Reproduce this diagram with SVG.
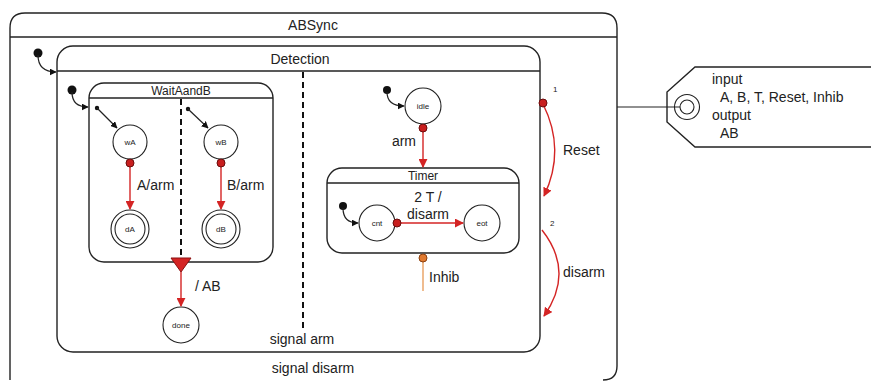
<svg xmlns="http://www.w3.org/2000/svg" width="871" height="381" viewBox="0 0 871 381">
<defs>
<style>
.box{fill:none;stroke:#222;stroke-width:1.4}
.st{fill:#fff;stroke:#222;stroke-width:1.1}
.dash{stroke:#111;stroke-width:2;stroke-dasharray:6,4;fill:none}
.blk{stroke:#222;stroke-width:1.2;fill:none}
.red{stroke:#d42424;stroke-width:1.4;fill:none}
.rdot{fill:#c81e1e;stroke:#6a0d0d;stroke-width:1}
.t{font-family:"Liberation Sans",Arial,sans-serif;fill:#222}
.lbl{font-family:"Liberation Sans",Arial,sans-serif;fill:#222;font-size:14px}
.sm{font-family:"Liberation Sans",Arial,sans-serif;fill:#222;font-size:8px;text-anchor:middle}
</style>
<marker id="ab" viewBox="0 0 10 10" refX="9" refY="5" markerWidth="7" markerHeight="7" orient="auto" markerUnits="userSpaceOnUse"><path d="M0,0L10,5L0,10z" fill="#111"/></marker>
<marker id="ar" viewBox="0 0 10 10" refX="9" refY="5" markerWidth="9" markerHeight="9" orient="auto" markerUnits="userSpaceOnUse"><path d="M0,0L10,5L0,10z" fill="#d42424"/></marker>
</defs>
<rect width="871" height="381" fill="#fff"/>

<g id="ABSync">
<path class="box" d="M10,380 V28 Q10,13 25,13 H602 Q617,13 617,28 V366 Q617,380 603,380"/>
<line class="box" x1="10" y1="37" x2="617" y2="37"/>
<text class="t" x="313" y="30" font-size="14" text-anchor="middle">ABSync</text>
<text class="lbl" x="313" y="373" text-anchor="middle">signal disarm</text>
</g>

<g id="Detection">
<rect class="box" x="57" y="46" width="483" height="306" rx="16"/>
<line class="box" x1="57" y1="71" x2="540" y2="71"/>
<text class="t" x="300" y="64" font-size="14" text-anchor="middle">Detection</text>
<line class="dash" x1="303" y1="72" x2="303" y2="331"/>
<text class="lbl" x="302" y="344" text-anchor="middle">signal arm</text>
</g>

<g id="WaitAandB">
<rect class="box" x="89" y="83" width="184" height="179" rx="15"/>
<line class="box" x1="89" y1="98" x2="273" y2="98"/>
<text class="t" x="181" y="95" font-size="12" text-anchor="middle">WaitAandB</text>
<line class="dash" x1="181" y1="99" x2="181" y2="258"/>
</g>

<g id="wA"><circle class="st" cx="130" cy="142" r="17"/><text class="sm" x="130" y="145">wA</text></g>
<g id="wB"><circle class="st" cx="221" cy="142" r="17"/><text class="sm" x="221" y="145">wB</text></g>
<g id="dA"><circle class="st" cx="130" cy="229" r="19"/><circle class="st" cx="130" cy="229" r="15"/><text class="sm" x="130" y="232">dA</text></g>
<g id="dB"><circle class="st" cx="221" cy="229" r="19"/><circle class="st" cx="221" cy="229" r="15"/><text class="sm" x="221" y="232">dB</text></g>
<g id="done"><circle class="st" cx="181" cy="325" r="18"/><text class="sm" x="181" y="328">done</text></g>
<g id="idle"><circle class="st" cx="423" cy="106" r="18"/><text class="sm" x="423" y="109">idle</text></g>

<g id="Timer">
<rect class="box" x="327" y="168" width="192" height="85" rx="15"/>
<line class="box" x1="327" y1="183" x2="519" y2="183"/>
<text class="t" x="423" y="180" font-size="12" text-anchor="middle">Timer</text>
</g>
<g id="cnt"><circle class="st" cx="377" cy="223" r="18"/><text class="sm" x="377" y="226">cnt</text></g>
<g id="eot"><circle class="st" cx="482" cy="223" r="18"/><text class="sm" x="482" y="226">eot</text></g>

<g id="interface">
<path class="box" d="M875,67 H695 L667,92 V122 L695,147 H875"/>
<circle class="st" cx="687" cy="107" r="12.5"/>
<circle class="st" cx="687" cy="107" r="7"/>
<text class="lbl" x="712" y="84">input</text>
<text class="lbl" x="720" y="102">A, B, T, Reset, Inhib</text>
<text class="lbl" x="712" y="120">output</text>
<text class="lbl" x="720" y="138">AB</text>
</g>

<g id="connectors">
<circle cx="38" cy="53" r="4.5" fill="#111"/>
<path class="blk" d="M38,55 Q38,72 56,72" marker-end="url(#ab)"/>
<circle cx="72" cy="90" r="4.5" fill="#111"/>
<path class="blk" d="M72,92 Q72,107 88,107" marker-end="url(#ab)"/>
<circle cx="97" cy="108" r="2.2" fill="#111"/>
<line class="blk" x1="97" y1="108" x2="117" y2="128" marker-end="url(#ab)"/>
<circle cx="188" cy="109" r="2.2" fill="#111"/>
<line class="blk" x1="188" y1="109" x2="208" y2="128" marker-end="url(#ab)"/>
<line class="red" x1="130" y1="164" x2="130" y2="209" marker-end="url(#ar)"/>
<circle class="rdot" cx="130" cy="163" r="4"/>
<text class="lbl" x="137" y="190">A/arm</text>
<line class="red" x1="221" y1="164" x2="221" y2="209" marker-end="url(#ar)"/>
<circle class="rdot" cx="221" cy="163" r="4"/>
<text class="lbl" x="227" y="190">B/arm</text>
<path d="M171,258 H191 L181,272 Z" fill="#d42424" stroke="#8a1010" stroke-width="1"/>
<line class="red" x1="181" y1="272" x2="181" y2="306" marker-end="url(#ar)"/>
<text class="lbl" x="195" y="291">/ AB</text>
<circle cx="387" cy="90" r="4" fill="#111"/>
<path class="blk" d="M387,92 Q387,106 404,106" marker-end="url(#ab)"/>
<line class="red" x1="423" y1="129" x2="423" y2="167" marker-end="url(#ar)"/>
<circle class="rdot" cx="423" cy="128" r="4"/>
<text class="lbl" x="416" y="146" text-anchor="end">arm</text>
<circle cx="343" cy="206" r="4" fill="#111"/>
<path class="blk" d="M343,208 Q343,223 358,223" marker-end="url(#ab)"/>
<line class="red" x1="398" y1="223" x2="463" y2="223" marker-end="url(#ar)"/>
<circle class="rdot" cx="397" cy="223" r="4"/>
<text class="lbl" x="428" y="202" text-anchor="middle">2 T /</text>
<text class="lbl" x="428" y="219" text-anchor="middle">disarm</text>
<line x1="423" y1="260" x2="423" y2="291" stroke="#e8a060" stroke-width="1.4"/>
<circle cx="423" cy="258" r="4" fill="#e07a30" stroke="#8a4010" stroke-width="1"/>
<text class="lbl" x="429" y="282">Inhib</text>
<path class="red" d="M543,104 Q566,150 544,196" marker-end="url(#ar)"/>
<circle class="rdot" cx="543" cy="103" r="4"/>
<text class="t" x="553" y="92" font-size="8">1</text>
<text class="lbl" x="563" y="155">Reset</text>
<path class="red" d="M542,230 Q575,272 544,316" marker-end="url(#ar)"/>
<text class="t" x="550" y="226" font-size="8">2</text>
<text class="lbl" x="563" y="277">disarm</text>
<line class="blk" x1="617" y1="107" x2="680" y2="107"/>
</g>
</svg>
